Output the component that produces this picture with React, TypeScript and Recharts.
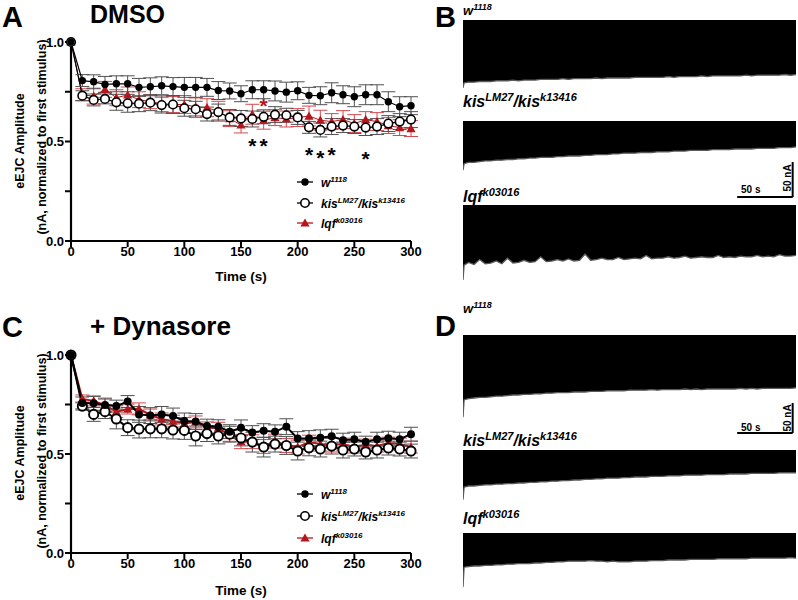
import React from 'react';
import { ComposedChart, Line, XAxis, YAxis, ErrorBar, Scatter, AreaChart, Area, ReferenceLine } from 'recharts';

const FONT = '"Liberation Sans", Arial, Helvetica, sans-serif';
const RED = '#b3171d';
const RED_ERR = '#d3494e';
const GREY_ERR = '#505050';

// ---- Graph data (normalized eEJC amplitude) ----
const TIME = [0, 10, 20, 30, 40, 50, 60, 70, 80, 90, 100, 110, 120, 130, 140, 150, 160, 170, 180, 190, 200, 210, 220, 230, 240, 250, 260, 270, 280, 290, 300];
const X_TICKS = [0, 50, 100, 150, 200, 250, 300];
const Y_TICKS = [0, 0.25, 0.5, 0.75, 1.0];

// Panel A: DMSO
const A_W = [1.0, 0.806, 0.80, 0.787, 0.79, 0.79, 0.772, 0.775, 0.78, 0.776, 0.772, 0.772, 0.772, 0.756, 0.754, 0.74, 0.76, 0.76, 0.754, 0.748, 0.755, 0.732, 0.73, 0.745, 0.735, 0.725, 0.735, 0.735, 0.70, 0.675, 0.68];
const A_WE = [0, 0.03, 0.035, 0.04, 0.04, 0.04, 0.045, 0.045, 0.045, 0.045, 0.05, 0.05, 0.045, 0.045, 0.04, 0.04, 0.045, 0.045, 0.05, 0.05, 0.045, 0.04, 0.045, 0.05, 0.045, 0.05, 0.05, 0.05, 0.05, 0.05, 0.045];
const A_K = [1.0, 0.73, 0.709, 0.714, 0.697, 0.692, 0.69, 0.695, 0.683, 0.686, 0.667, 0.662, 0.638, 0.648, 0.621, 0.616, 0.613, 0.624, 0.635, 0.632, 0.621, 0.571, 0.558, 0.575, 0.58, 0.575, 0.57, 0.575, 0.59, 0.60, 0.61];
const A_KE = [0, 0.025, 0.03, 0.025, 0.04, 0.045, 0.04, 0.04, 0.04, 0.045, 0.04, 0.04, 0.035, 0.04, 0.04, 0.04, 0.04, 0.035, 0.04, 0.035, 0.035, 0.03, 0.035, 0.04, 0.035, 0.035, 0.04, 0.04, 0.04, 0.04, 0.04];
const A_L = [1.0, 0.735, 0.728, 0.762, 0.72, 0.734, 0.71, 0.70, 0.69, 0.686, 0.686, 0.674, 0.67, 0.652, 0.615, 0.583, 0.637, 0.607, 0.62, 0.613, 0.62, 0.628, 0.607, 0.60, 0.61, 0.59, 0.61, 0.60, 0.58, 0.57, 0.565];
const A_LE = [0, 0.03, 0.04, 0.04, 0.04, 0.04, 0.04, 0.035, 0.04, 0.04, 0.045, 0.045, 0.045, 0.05, 0.04, 0.04, 0.05, 0.045, 0.04, 0.04, 0.045, 0.05, 0.05, 0.04, 0.045, 0.045, 0.04, 0.045, 0.04, 0.04, 0.04];

// significance markers in panel A
const A_STAR_T = [160, 170, 210, 220, 230, 260, 170];
const A_STAR_V = [0.494, 0.494, 0.449, 0.43, 0.447, 0.427, 0.695];
const A_STAR_C = ['#000', '#000', '#000', '#000', '#000', '#000', RED];

// Panel C: + Dynasore
const C_W = [1.0, 0.758, 0.756, 0.747, 0.742, 0.765, 0.70, 0.694, 0.70, 0.692, 0.667, 0.664, 0.641, 0.638, 0.613, 0.632, 0.608, 0.618, 0.612, 0.638, 0.578, 0.578, 0.582, 0.59, 0.57, 0.575, 0.56, 0.575, 0.58, 0.575, 0.60];
const C_WE = [0, 0.03, 0.035, 0.035, 0.03, 0.03, 0.04, 0.04, 0.04, 0.04, 0.04, 0.04, 0.035, 0.035, 0.035, 0.04, 0.035, 0.035, 0.035, 0.04, 0.035, 0.04, 0.04, 0.035, 0.035, 0.035, 0.03, 0.035, 0.035, 0.035, 0.035];
const C_K = [1.0, 0.742, 0.70, 0.714, 0.677, 0.633, 0.626, 0.627, 0.627, 0.621, 0.619, 0.591, 0.603, 0.591, 0.60, 0.581, 0.56, 0.535, 0.55, 0.543, 0.515, 0.531, 0.525, 0.54, 0.52, 0.525, 0.51, 0.52, 0.53, 0.525, 0.515];
const C_KE = [0, 0.02, 0.035, 0.035, 0.05, 0.04, 0.045, 0.045, 0.045, 0.045, 0.045, 0.05, 0.04, 0.04, 0.04, 0.04, 0.05, 0.05, 0.04, 0.045, 0.045, 0.04, 0.04, 0.04, 0.04, 0.035, 0.035, 0.04, 0.035, 0.035, 0.035];
const C_L = [1.0, 0.778, 0.768, 0.747, 0.714, 0.727, 0.728, 0.697, 0.677, 0.666, 0.654, 0.662, 0.632, 0.63, 0.594, 0.562, 0.562, 0.538, 0.565, 0.543, 0.535, 0.56, 0.55, 0.545, 0.55, 0.535, 0.545, 0.54, 0.555, 0.55, 0.535];
const C_LE = [0, 0.02, 0.025, 0.03, 0.03, 0.025, 0.03, 0.03, 0.03, 0.03, 0.03, 0.03, 0.03, 0.03, 0.03, 0.035, 0.035, 0.035, 0.035, 0.035, 0.035, 0.035, 0.035, 0.035, 0.03, 0.03, 0.03, 0.03, 0.03, 0.03, 0.03];

// ---- Representative traces: lower envelope (nA, inward = negative), time in s ----
const TRACE_T = [0, 1, 5, 10, 15, 20, 25, 30, 35, 40, 45, 50, 55, 60, 65, 70, 75, 80, 85, 90, 95, 100, 105, 110, 115, 120, 125, 130, 135, 140, 145, 150, 155, 160, 165, 170, 175, 180, 185, 190, 195, 200, 205, 210, 215, 220, 225, 230, 235, 240, 245, 250, 255, 260, 265, 270, 275, 280, 285, 290, 295, 300];
const B_W = [-97, -90, -89, -89, -88, -88, -88, -87, -87, -87, -86, -87, -86, -86, -86, -85, -85, -85, -85, -84, -85, -84, -84, -84, -84, -83, -84, -83, -83, -83, -83, -83, -82, -82, -82, -82, -82, -82, -81, -82, -81, -81, -81, -81, -80, -81, -80, -80, -80, -80, -80, -80, -79, -80, -79, -79, -79, -79, -79, -78, -79, -78];
const B_K = [-70, -61, -59, -59, -58, -57, -57, -56, -56, -55, -55, -54, -54, -53, -53, -52, -52, -52, -51, -51, -50, -50, -50, -49, -49, -48, -48, -48, -47, -47, -46, -46, -46, -45, -45, -45, -44, -44, -44, -43, -43, -43, -42, -42, -42, -42, -41, -41, -41, -41, -40, -40, -40, -40, -39, -39, -39, -39, -38, -38, -38, -37];
const B_L = [-107, -86, -82, -85, -78, -84, -83, -80, -84, -76, -83, -82, -79, -82, -81, -74, -81, -80, -78, -80, -77, -80, -79, -70, -79, -78, -76, -78, -78, -75, -78, -77, -76, -77, -72, -77, -76, -76, -74, -76, -75, -73, -76, -75, -74, -75, -75, -72, -75, -74, -75, -73, -74, -74, -72, -74, -73, -74, -71, -73, -73, -72];
const D_W = [-137, -108, -106, -105, -104, -104, -103, -102, -102, -101, -100, -100, -99, -99, -98, -98, -97, -97, -96, -96, -96, -95, -95, -95, -94, -94, -94, -93, -93, -93, -93, -92, -92, -92, -92, -91, -92, -91, -91, -91, -91, -90, -91, -90, -91, -90, -90, -90, -90, -90, -90, -89, -90, -89, -90, -89, -89, -89, -89, -89, -89, -88];
const D_K = [-83, -62, -60, -60, -59, -58, -58, -57, -57, -56, -56, -55, -55, -54, -54, -53, -53, -52, -52, -51, -51, -50, -50, -49, -49, -48, -48, -47, -47, -47, -46, -46, -45, -45, -45, -44, -44, -44, -43, -43, -43, -42, -42, -42, -42, -41, -41, -41, -41, -40, -40, -40, -40, -39, -39, -39, -39, -39, -38, -38, -38, -38];
const D_L = [-90, -57, -56, -55, -55, -54, -54, -53, -53, -52, -52, -51, -51, -51, -50, -50, -49, -49, -48, -48, -47, -47, -47, -47, -46, -47, -47, -48, -47, -48, -48, -48, -47, -47, -47, -46, -46, -46, -45, -45, -45, -45, -44, -44, -44, -44, -44, -43, -43, -43, -43, -43, -43, -42, -42, -42, -42, -42, -42, -42, -41, -42];

// scale bars: 50 s, 50 nA
const SCALE_T = [247, 297];
const SCALE_NA = 50;

const tickStyle = { fill: '#000', fontSize: 13, fontWeight: 700, fontFamily: FONT };

function rowsFor(w, we, k, ke, l, le) {
  return TIME.map((t, i) => ({ t, w: w[i], wErr: we[i], k: k[i], kErr: ke[i], l: l[i], lErr: le[i] }));
}

function Graph({ top, mt, mb, rows, stars, thick }) {
  const lw = thick ? 2 : 1.2;
  const filled = (p) => <circle key={'f' + p.index} cx={p.cx} cy={p.cy} r={thick ? 4 : 3.7} fill="#000" />;
  const open = (p) => <circle key={'o' + p.index} cx={p.cx} cy={p.cy} r={thick ? 4.6 : 4.3} fill="#fff" stroke="#000" strokeWidth={thick ? 1.9 : 1.6} />;
  const tri = (p) => (
    <polygon key={'t' + p.index} points={`${p.cx},${p.cy - 4.6} ${p.cx + 4.6},${p.cy + 3.6} ${p.cx - 4.6},${p.cy + 3.6}`} fill={RED} />
  );
  const starShape = (p) => (
    <text x={p.cx} y={p.cy + 10} textAnchor="middle" fontSize={21} fontWeight={700} fontFamily={FONT} fill={p.payload.c}>*</text>
  );
  return (
    <div style={{ position: 'absolute', left: 0, top, width: 440, height: 300 }}>
      <ComposedChart width={440} height={300} data={rows} margin={{ top: mt, right: 29, bottom: mb, left: 41 }}>
        <XAxis dataKey="t" type="number" domain={[0, 300]} ticks={X_TICKS} interval={0} height={30}
          axisLine={{ stroke: '#000', strokeWidth: 2.2 }} tickLine={{ stroke: '#000', strokeWidth: 2 }} tickSize={6} tickMargin={0} tick={tickStyle} />
        <YAxis type="number" domain={[0, 1]} ticks={Y_TICKS} interval={0} width={30}
          tickFormatter={(v) => (v === 0.25 || v === 0.75 ? '' : v.toFixed(1))}
          axisLine={{ stroke: '#000', strokeWidth: 2.2 }} tickLine={{ stroke: '#000', strokeWidth: 2 }} tickSize={6} tickMargin={1} tick={tickStyle} />
        <Line dataKey="l" stroke={RED} strokeWidth={thick ? 2 : 1} dot={tri} activeDot={false} isAnimationActive={false}>
          <ErrorBar dataKey="lErr" width={7} stroke={RED_ERR} strokeWidth={1} direction="y" />
        </Line>
        <Line dataKey="k" stroke="#000" strokeWidth={lw} dot={open} activeDot={false} isAnimationActive={false}>
          <ErrorBar dataKey="kErr" width={7} stroke={GREY_ERR} strokeWidth={1} direction="y" />
        </Line>
        <Line dataKey="w" stroke="#000" strokeWidth={lw} dot={filled} activeDot={false} isAnimationActive={false}>
          <ErrorBar dataKey="wErr" width={7} stroke={GREY_ERR} strokeWidth={1} direction="y" />
        </Line>
        {stars ? <Scatter data={stars} dataKey="v" shape={starShape} isAnimationActive={false} /> : null}
      </ComposedChart>
    </div>
  );
}

function Trace({ top, height, minNA, values, scaleY }) {
  const data = TRACE_T.map((t, i) => ({ t, v: values[i] }));
  return (
    <div style={{ position: 'absolute', left: 463, top, width: 333, height }}>
      <AreaChart width={333} height={height} data={data} margin={{ top: 0, right: 0, bottom: 0, left: 0 }}>
        <XAxis dataKey="t" type="number" domain={[0, 300]} hide />
        <YAxis type="number" domain={[minNA, 0]} hide allowDataOverflow />
        <Area type="linear" dataKey="v" baseValue={0} stroke="#5a5a5a" strokeWidth={1.3} fill="#000" fillOpacity={1} isAnimationActive={false} dot={false} activeDot={false} />
        {scaleY !== undefined ? (
          <ReferenceLine segment={[{ x: SCALE_T[0], y: scaleY }, { x: SCALE_T[1], y: scaleY }]} stroke="#000" strokeWidth={2} ifOverflow="visible" />
        ) : null}
        {scaleY !== undefined ? (
          <ReferenceLine segment={[{ x: SCALE_T[1], y: scaleY }, { x: SCALE_T[1], y: scaleY + SCALE_NA }]} stroke="#000" strokeWidth={2} ifOverflow="visible" />
        ) : null}
      </AreaChart>
    </div>
  );
}

function Geno({ x, y, size, kind }) {
  const sup = Math.round(size * 0.66);
  const up = size * 0.38;
  const common = { fontFamily: FONT, fontWeight: 700, fontStyle: 'italic', fill: '#000' };
  if (kind === 'w') {
    return (
      <text x={x} y={y} fontSize={size} {...common}>w<tspan fontSize={sup} dy={-up}>1118</tspan></text>
    );
  }
  if (kind === 'k') {
    return (
      <text x={x} y={y} fontSize={size} {...common}>
        kis<tspan fontSize={sup} dy={-up}>LM27</tspan><tspan dy={up}>/kis</tspan><tspan fontSize={sup} dy={-up}>k13416</tspan>
      </text>
    );
  }
  return (
    <text x={x} y={y} fontSize={size} {...common}>lqf<tspan fontSize={sup} dy={-up}>k03016</tspan></text>
  );
}

function LegendBlock({ rows }) {
  const [r1, r2, r3] = rows;
  return (
    <g>
      <line x1={297} x2={313} y1={r1} y2={r1} stroke="#000" strokeWidth={1.3} />
      <circle cx={305} cy={r1} r={3.7} fill="#000" />
      <line x1={297} x2={313} y1={r2} y2={r2} stroke="#000" strokeWidth={1.3} />
      <circle cx={305} cy={r2} r={4.2} fill="#fff" stroke="#000" strokeWidth={1.6} />
      <line x1={297} x2={313} y1={r3} y2={r3} stroke={RED} strokeWidth={1.3} />
      <polygon points={`305,${r3 - 4.6} 309.6,${r3 + 3.6} 300.4,${r3 + 3.6}`} fill={RED} />
      <Geno x={321} y={r1 + 4.5} size={12} kind="w" />
      <Geno x={321} y={r2 + 4.5} size={12} kind="k" />
      <Geno x={321} y={r3 + 4.5} size={12} kind="l" />
    </g>
  );
}

function Overlay() {
  const bold = { fontFamily: FONT, fontWeight: 700, fill: '#000' };
  return (
    <svg width={798} height={600} style={{ position: 'absolute', left: 0, top: 0, pointerEvents: 'none' }}>
      <text x={2} y={26.5} fontSize={29} {...bold}>A</text>
      <text x={90} y={23} fontSize={25} {...bold}>DMSO</text>
      <text x={435} y={26.5} fontSize={29} {...bold}>B</text>
      <text x={2} y={337} fontSize={29} {...bold}>C</text>
      <text x={90} y={335} fontSize={26} {...bold}>+ Dynasore</text>
      <text x={435} y={336} fontSize={29} {...bold}>D</text>

      <text transform="translate(24,141) rotate(-90)" textAnchor="middle" fontSize={12.5} {...bold}>eEJC Amplitude</text>
      <text transform="translate(45.5,137) rotate(-90)" textAnchor="middle" fontSize={12.5} {...bold}>(nA, normalized to first stimulus)</text>
      <text transform="translate(24,453) rotate(-90)" textAnchor="middle" fontSize={12.5} {...bold}>eEJC Amplitude</text>
      <text transform="translate(45.5,451) rotate(-90)" textAnchor="middle" fontSize={12.5} {...bold}>(nA, normalized to first stimulus)</text>

      <text x={241} y={281} textAnchor="middle" fontSize={13.5} {...bold}>Time (s)</text>
      <text x={241} y={595} textAnchor="middle" fontSize={13.5} {...bold}>Time (s)</text>

      <LegendBlock rows={[182, 203, 223]} />
      <LegendBlock rows={[494, 516, 538]} />

      <Geno x={463} y={15} size={13} kind="w" />
      <Geno x={463} y={107} size={16} kind="k" />
      <Geno x={463} y={202} size={16} kind="l" />
      <Geno x={463} y={313} size={13} kind="w" />
      <Geno x={463} y={446} size={16} kind="k" />
      <Geno x={463} y={524} size={16} kind="l" />

      <text x={741} y={193} fontSize={10} {...bold}>50 s</text>
      <text transform="translate(791,178) rotate(-90)" textAnchor="middle" fontSize={10} {...bold}>50 nA</text>
      <text x={741} y={431} fontSize={10} {...bold}>50 s</text>
      <text transform="translate(791,418) rotate(-90)" textAnchor="middle" fontSize={10} {...bold}>50 nA</text>
    </svg>
  );
}

export default function App() {
  const rowsA = rowsFor(A_W, A_WE, A_K, A_KE, A_L, A_LE);
  const rowsC = rowsFor(C_W, C_WE, C_K, C_KE, C_L, C_LE);
  const starsA = A_STAR_T.map((t, i) => ({ t, v: A_STAR_V[i], c: A_STAR_C[i] }));
  return (
    <div style={{ position: 'absolute', left: 0, top: 0, width: 798, height: 600, background: '#fff', fontFamily: FONT, overflow: 'hidden' }}>
      <Graph top={0} mt={42} mb={29} rows={rowsA} stars={starsA} thick={false} />
      <Graph top={300} mt={55} mb={17} rows={rowsC} stars={null} thick={true} />

      <Trace top={20} height={72} minNA={-103} values={B_W} />
      <Trace top={121} height={78} minNA={-111.4} values={B_K} scaleY={-108.6} />
      <Trace top={205} height={80} minNA={-114.3} values={B_L} />

      <Trace top={335} height={100} minNA={-166.7} values={D_W} scaleY={-163.3} />
      <Trace top={450} height={54} minNA={-90} values={D_K} />
      <Trace top={533} height={60} minNA={-100} values={D_L} />

      <Overlay />
    </div>
  );
}
